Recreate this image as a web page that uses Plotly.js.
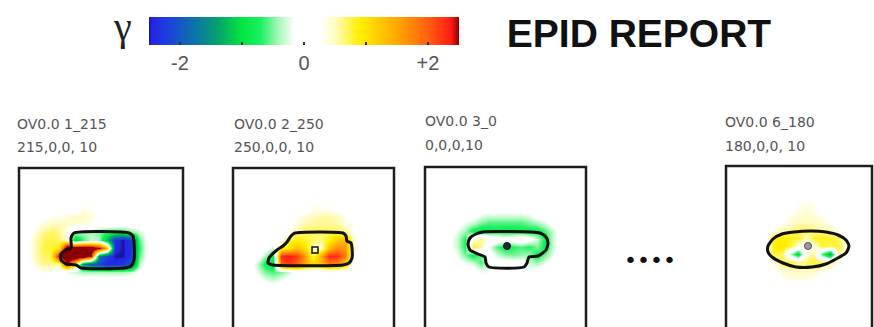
<!DOCTYPE html>
<html>
<head>
<meta charset="utf-8">
<script src="https://cdn.plot.ly/plotly-3.0.1.min.js"></script>
<style>
  html, body { margin: 0; padding: 0; background: #ffffff; }
  #chart { width: 874px; height: 327px; }
</style>
</head>
<body>
<div id="chart"></div>
<script>
// ---- Data -------------------------------------------------------------
// Portal-dosimetry gamma maps, sampled on a coarse detector grid
// (pixel offsets inside each panel frame: x to the right, y downward).
const gridX = [8, 16, 24, 32, 40, 48, 56, 64, 72, 80, 88, 96, 104, 112, 120, 128, 136];
const gridY = [40, 48, 56, 64, 72, 80, 88, 96, 104, 112, 120];

const beamNames = ["OV0.0 1_215", "OV0.0 2_250", "OV0.0 3_0", "OV0.0 6_180"];
const beamParams = ["215,0,0, 10", "250,0,0, 10", "0,0,0,10", "180,0,0, 10"];

const gammaBeam1 = [
  [0, 0, 0, 0, 0, 0, 0, 0.3, 0.3, 0, 0, 0, 0, 0, 0, 0, 0],
  [0, 0, 0.2, 0.3, 0.3, 0.4, 0.5, 0.5, 0.4, 0.3, 0, 0, 0, 0, 0, 0, 0],
  [0, 0.2, 0.4, 0.5, 0.5, 0.5, 0.4, 0.4, 0.3, 0, 0, 0, 0, 0, 0, 0, 0],
  [0, 0.4, 0.6, 0.7, 0.6, 0.3, -0.3, -0.4, -0.4, -0.5, -0.6, -0.7, -0.7, -0.5, -0.3, -0.1, 0],
  [0.2, 0.5, 0.7, 0.75, 0.7, 0.4, -1.1, -0.6, -0.3, -0.4, -1.3, -2.4, -2.5, -2.3, -0.6, -0.1, 0],
  [0.2, 0.5, 0.75, 0.8, 0.9, 3.2, 3.2, 3.2, 3.0, 2.6, 1.4, -2.4, -2.5, -2.3, -0.7, -0.1, 0],
  [0.2, 0.5, 0.7, 0.75, 2.6, 3.2, 3.2, 3.2, 2.5, -1.6, -2.2, -2.5, -2.5, -2.3, -0.6, -0.1, 0],
  [0.1, 0.4, 0.6, 0.6, 0.5, 2.4, 1.0, -1.6, -2.0, -2.2, -2.4, -2.4, -2.3, -2.0, -0.4, 0, 0],
  [0, 0.2, 0.3, 0.3, 0.2, -0.2, -0.3, -0.4, -0.4, -0.4, -0.4, -0.4, -0.4, -0.3, -0.1, 0, 0],
  [0, 0, 0.1, 0.1, 0, 0, 0, 0, 0, 0, 0, 0, 0, 0, 0, 0, 0],
  [0, 0, 0, 0, 0, 0, 0, 0, 0, 0, 0, 0, 0, 0, 0, 0, 0]
];

const gammaBeam2 = [
  [0, 0, 0, 0, 0, 0, 0, 0, 0, 0.3, 0.3, 0.3, 0, 0, 0, 0, 0],
  [0, 0, 0, 0, 0, 0, 0, 0.3, 0.4, 0.5, 0.55, 0.55, 0.5, 0.3, 0, 0, 0],
  [0, 0, 0, 0, 0, 0, 0.2, 0.4, 0.55, 0.6, 0.6, 0.6, 0.55, 0.4, 0.3, 0, 0],
  [0, 0, 0, 0, 0, 0, 0.3, 0.6, 0.7, 0.7, 0.7, 0.7, 0.8, 0.6, 0.3, 0.1, 0],
  [0, 0, 0, 0, 0, 0.3, 0.8, 0.9, 0.8, 0.7, 0.6, 0.9, 1.2, 1.4, 0.5, 0.1, 0],
  [0, 0, 0, 0, -0.3, 0.8, 1.0, 1.3, 1.0, 0.5, 0.4, 1.3, 1.7, 1.6, 0.5, 0.1, 0],
  [0, 0, 0, -0.4, -0.8, 2.3, 2.4, 2.2, 1.6, 0.7, 1.5, 2.3, 2.3, 1.8, 0.4, 0, 0],
  [0, 0, -0.3, -0.8, -1.0, 2.0, 2.2, 2.0, 1.5, 1.2, 1.3, 1.8, 1.7, 1.2, 0.2, 0, 0],
  [0, 0, -0.2, -0.5, -0.6, -0.5, -0.3, 0, 0, 0, 0, 0, 0, 0, 0, 0, 0],
  [0, 0, 0, -0.2, -0.3, -0.2, 0, 0, 0, 0, 0, 0, 0, 0, 0, 0, 0],
  [0, 0, 0, 0, 0, 0, 0, 0, 0, 0, 0, 0, 0, 0, 0, 0, 0]
];

const gammaBeam3 = [
  [0, 0, 0, 0, 0, 0, 0, 0, 0, 0, 0, 0, 0, 0, 0, 0, 0],
  [0, 0, 0, 0, 0, 0, -0.2, -0.25, -0.25, -0.25, -0.25, -0.25, -0.2, 0, 0, 0, 0],
  [0, 0, 0, 0, -0.2, -0.3, -0.5, -0.6, -0.6, -0.6, -0.6, -0.6, -0.5, -0.4, -0.25, 0, 0],
  [0, 0, 0, -0.2, -0.4, -0.8, -0.9, -0.85, -0.8, -0.85, -0.85, -0.8, -0.8, -0.8, -0.6, -0.3, 0],
  [0, 0, -0.1, -0.3, -0.7, 0.4, 0.6, 0.3, 0.1, 0.0, 0.1, 0.2, 0.0, -0.3, -0.8, -0.3, 0],
  [0, 0, -0.1, -0.3, -0.7, 0.8, 0.6, -0.2, -0.6, -0.8, -0.7, -0.6, -0.7, -0.5, -0.8, -0.3, 0],
  [0, 0, 0, -0.2, -0.5, -0.8, -0.5, 0.0, -0.3, -0.45, -0.5, -0.45, -0.4, -0.8, -0.5, -0.2, 0],
  [0, 0, 0, 0, -0.2, -0.3, -0.6, -0.2, 0, 0, 0, 0, -0.3, -0.4, -0.2, 0, 0],
  [0, 0, 0, 0, 0, 0, -0.2, -0.2, 0, 0, 0, 0, -0.2, 0, 0, 0, 0],
  [0, 0, 0, 0, 0, 0, 0, 0, 0, 0, 0, 0, 0, 0, 0, 0, 0],
  [0, 0, 0, 0, 0, 0, 0, 0, 0, 0, 0, 0, 0, 0, 0, 0, 0]
];

const gammaBeam6 = [
  [0, 0, 0, 0, 0, 0, 0, 0, 0.3, 0.35, 0.3, 0, 0, 0, 0, 0, 0],
  [0, 0, 0, 0, 0, 0, 0, 0.3, 0.4, 0.45, 0.4, 0.3, 0, 0, 0, 0, 0],
  [0, 0, 0, 0, 0, 0, 0.3, 0.4, 0.5, 0.5, 0.5, 0.4, 0.3, 0, 0, 0, 0],
  [0, 0, 0, 0, 0, 0.3, 0.5, 0.6, 0.7, 0.7, 0.6, 0.55, 0.5, 0.3, 0, 0, 0],
  [0, 0, 0, 0, 0.3, 0.85, 0.9, 0.85, 0.8, 0.5, 0.8, 0.85, 0.8, 0.75, 0.3, 0, 0],
  [0, 0, 0, 0, 0.3, 0.9, 1.0, 0.8, 0.4, 0.2, 0.4, 0.8, 0.75, 0.8, 0.4, 0, 0],
  [0, 0, 0, 0, 0.2, 0.8, 0.7, -0.3, -1.1, 0.4, 0.6, -0.6, -1.4, 0.6, 0.3, 0, 0],
  [0, 0, 0, 0, 0, 0.4, 0.8, 0.8, 0.6, 0.7, 0.8, 0.7, 0.6, 0.4, 0, 0, 0],
  [0, 0, 0, 0, 0, 0.2, 0.4, 0.5, 0.5, 0.5, 0.5, 0.4, 0.3, 0, 0, 0, 0],
  [0, 0, 0, 0, 0, 0, 0.3, 0.4, 0.4, 0.4, 0.3, 0, 0, 0, 0, 0, 0],
  [0, 0, 0, 0, 0, 0, 0, 0, 0, 0, 0, 0, 0, 0, 0, 0, 0]
];

// Field outlines (closed contours)
const outline1X = [55, 110, 114, 115, 115, 112, 105, 62, 57, 47, 42, 42, 47, 52, 52, 55];
const outline1Y = [65, 65, 68, 75, 92, 98, 100, 100, 97, 96, 92, 86, 82, 80, 70, 65];
const outline2X = [62, 110, 113, 114, 118, 119, 119, 116, 110, 40, 35, 36, 44, 50, 54, 58, 62];
const outline2Y = [65, 65, 68, 73, 75, 80, 90, 95, 97, 97, 95, 90, 82, 78, 74, 68, 65];
const outline3X = [58, 106, 115, 121, 123, 121, 113, 104, 102, 99, 64, 61, 60, 53, 45, 43, 45, 51, 58];
const outline3Y = [65, 65, 66, 70, 76, 83, 89, 90, 96, 100, 100, 96, 90, 87, 83, 77, 71, 67, 65];
const outline6X = [42, 47, 56, 68, 85, 100, 112, 120, 123, 120, 110, 100, 86, 70, 57, 46, 42, 42];
const outline6Y = [80, 73, 68, 66, 65, 66, 69, 74, 80, 87, 93, 98, 101, 101, 97, 91, 86, 80];

// Isocentre markers
const isoX = [null, 82, 82, 82];
const isoY = [null, 82, 79, 80];

// Gamma colour bar ticks
const gammaTickVals = [-2, -1, 0, 1, 2];
const gammaTickText = ["-2", "", "0", "", "+2"];

// ---- Layout of the four panels (pixel frames on the page) --------------
const W = 874, H = 327;
const frames = [
  { left: 19,  right: 183, top: 168, label1Y: 124, label2Y: 147, labelX: 15 },
  { left: 233, right: 394, top: 168, label1Y: 124, label2Y: 147, labelX: 232 },
  { left: 425, right: 586, top: 167, label1Y: 121, label2Y: 145, labelX: 423 },
  { left: 726, right: 872, top: 166, label1Y: 122, label2Y: 146, labelX: 723 }
];
const gammaMaps = [gammaBeam1, gammaBeam2, gammaBeam3, gammaBeam6];
const outlinesX = [outline1X, outline2X, outline3X, outline6X];
const outlinesY = [outline1Y, outline2Y, outline3Y, outline6Y];
const isoStyles = [
  null,
  { symbol: 'square-open', size: 6, color: '#111', line: { width: 1.5, color: '#111' } },
  { symbol: 'circle', size: 7, color: '#1b2a3a', line: { width: 1, color: '#111' } },
  { symbol: 'circle', size: 7, color: '#9a9a9a', line: { width: 1, color: '#555' } }
];

const px = v => v / W;
const py = v => 1 - v / H;

const traces = [];
const layout = {
  width: W, height: H,
  margin: { l: 0, r: 0, t: 0, b: 0 },
  paper_bgcolor: '#ffffff',
  plot_bgcolor: 'rgba(0,0,0,0)',
  showlegend: false,
  title: {
    text: 'EPID REPORT',
    x: px(639), xanchor: 'center', xref: 'paper',
    y: py(33), yanchor: 'middle', yref: 'paper',
    font: { family: 'Liberation Sans, Arial, sans-serif', size: 39, weight: 'bold', color: '#111111' }
  },
  coloraxis: {
    cmin: -2.5, cmax: 2.5,
    colorscale: [
      [0.00, '#14149c'],
      [0.01, '#2424e6'],
      [0.06, '#1c40dc'],
      [0.14, '#0c70ae'],
      [0.22, '#06a070'],
      [0.30, '#00e640'],
      [0.36, '#1cf060'],
      [0.42, '#aaf8ba'],
      [0.47, '#ffffff'],
      [0.55, '#ffffff'],
      [0.60, '#fffbc0'],
      [0.68, '#fff000'],
      [0.80, '#ffa800'],
      [0.90, '#ff6010'],
      [0.975, '#ff1a14'],
      [1.00, '#8a0000']
    ],
    colorbar: {
      orientation: 'h',
      x: px(304), xanchor: 'center',
      y: py(17), yanchor: 'top',
      len: 310, lenmode: 'pixels',
      thickness: 28, thicknessmode: 'pixels',
      outlinewidth: 0, xpad: 0, ypad: 0,
      tickmode: 'array', tickvals: gammaTickVals, ticktext: gammaTickText,
      ticks: 'inside', ticklen: 3, tickwidth: 2, tickcolor: '#333333',
      tickfont: { family: 'Liberation Sans, Arial, sans-serif', size: 20, color: '#555555' }
    }
  },
  shapes: [],
  annotations: [
    {
      text: 'γ', xref: 'paper', yref: 'paper',
      x: px(122), y: py(26), xanchor: 'center', yanchor: 'middle',
      showarrow: false,
      font: { family: 'Liberation Serif, DejaVu Serif, serif', size: 40, color: '#222222' }
    },
    {
      text: '••••', xref: 'paper', yref: 'paper',
      x: px(650), y: py(260), xanchor: 'center', yanchor: 'middle',
      showarrow: false,
      font: { family: 'DejaVu Sans, sans-serif', size: 22, color: '#111111' }
    }
  ]
};

frames.forEach((f, i) => {
  const n = i + 1;
  const xa = 'x' + (n === 1 ? '' : n), ya = 'y' + (n === 1 ? '' : n);
  const xKey = 'xaxis' + (n === 1 ? '' : n), yKey = 'yaxis' + (n === 1 ? '' : n);
  const visH = H - f.top;

  layout[xKey] = {
    domain: [px(f.left), px(f.right)], range: [0, f.right - f.left],
    visible: false, fixedrange: true, anchor: ya
  };
  layout[yKey] = {
    domain: [0, py(f.top)], range: [visH, 0],
    visible: false, fixedrange: true, anchor: xa
  };

  traces.push({
    type: 'heatmap', x: gridX, y: gridY, z: gammaMaps[i],
    coloraxis: 'coloraxis', zsmooth: 'best',
    xaxis: xa, yaxis: ya, hoverinfo: 'skip'
  });
  traces.push({
    type: 'scatter', mode: 'lines', x: outlinesX[i], y: outlinesY[i],
    line: { color: '#111111', width: 3, shape: 'spline', smoothing: 0.6 },
    xaxis: xa, yaxis: ya, hoverinfo: 'skip'
  });
  if (isoStyles[i]) {
    traces.push({
      type: 'scatter', mode: 'markers', x: [isoX[i]], y: [isoY[i]],
      marker: isoStyles[i], xaxis: xa, yaxis: ya, hoverinfo: 'skip'
    });
  }

  // frame around the portal image (bottom edge runs off the page)
  layout.shapes.push({
    type: 'rect', xref: 'paper', yref: 'paper',
    x0: px(f.left), x1: px(f.right), y0: -0.1, y1: py(f.top),
    line: { color: '#1e1e1e', width: 2.5 }, fillcolor: 'rgba(0,0,0,0)'
  });

  // beam name and gantry/collimator/couch/field parameters
  [[beamNames[i], f.label1Y], [beamParams[i], f.label2Y]].forEach(([t, yy]) => {
    layout.annotations.push({
      text: t, xref: 'paper', yref: 'paper',
      x: px(f.labelX), y: py(yy), xanchor: 'left', yanchor: 'middle',
      showarrow: false,
      font: { family: 'DejaVu Sans, sans-serif', size: 14, color: '#555555' }
    });
  });
});

Plotly.newPlot('chart', traces, layout, { displayModeBar: false, staticPlot: true });
</script>
</body>
</html>
